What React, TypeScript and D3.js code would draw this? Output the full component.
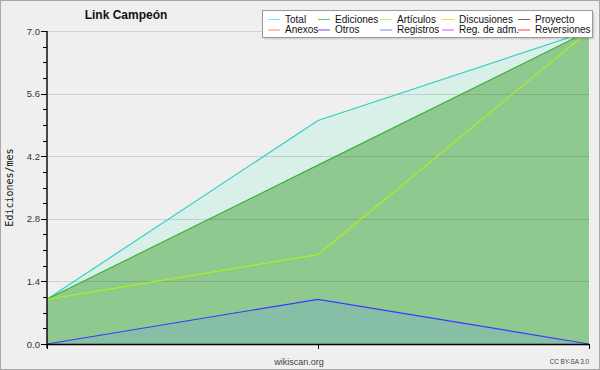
import React, { useRef, useEffect } from "react";
import * as d3 from "d3";

// three sample points along the x axis
const points = [0, 1, 2];
const total = [1, 5, 7];
const ediciones = [1, 4, 7];
const articulos = [1, 2, 7];
const registros = [0, 1, 0];

const yTicks = [0, 1.4, 2.8, 4.2, 5.6, 7.0];

const legendNames = [
  "Total", "Ediciones", "Artículos", "Discusiones", "Proyecto",
  "Anexos", "Otros", "Registros", "Reg. de adm.", "Reversiones",
];
const legendColors = [
  "#8ee0dc", "#6cc46c", "#c6f060", "#ffd24a", "#6a6a6a",
  "#ff8a4a", "#8a3ae0", "#7088ff", "#e050ff", "#ff3a3a",
];

const FONT = "Liberation Sans, Arial, sans-serif";

const App: React.FC = () => {
  const ref = useRef<SVGSVGElement | null>(null);

  useEffect(() => {
    const width = 600;
    const height = 370;
    const margin = { top: 31, right: 11, bottom: 26, left: 47 };
    const w = width - margin.left - margin.right;
    const h = height - margin.top - margin.bottom;

    const root = d3.select(ref.current);
    root.selectAll("*").remove();
    root.attr("width", width).attr("height", height);

    // background + frame
    root
      .append("rect")
      .attr("x", 0.5)
      .attr("y", 0.5)
      .attr("width", width - 1)
      .attr("height", height - 1)
      .attr("fill", "#efefef")
      .attr("stroke", "#a8a8a8");

    const svg = root
      .append("g")
      .attr("transform", `translate(${margin.left},${margin.top})`);

    const x = d3.scaleLinear().domain([0, 2]).range([0, w]);
    const y = d3.scaleLinear().domain([0, 7]).range([h, 0]);

    const area = (vals: number[]) =>
      d3
        .area<number>()
        .x((d) => x(d))
        .y0(y(0))
        .y1((d) => y(vals[d]))(points);
    const line = (vals: number[]) =>
      d3
        .line<number>()
        .x((d) => x(d))
        .y((d) => y(vals[d]))(points);

    // areas
    svg.append("path").attr("d", area(total)).attr("fill", "#d9f0e8");
    svg.append("path").attr("d", area(ediciones)).attr("fill", "#90c990");
    svg.append("path").attr("d", area(registros)).attr("fill", "#86bfa6");

    // grid lines on top of areas
    svg
      .selectAll(".grid")
      .data(yTicks.filter((t) => t > 0))
      .enter()
      .append("line")
      .attr("x1", 0)
      .attr("x2", w)
      .attr("y1", (d) => Math.round(y(d)) + 0.5)
      .attr("y2", (d) => Math.round(y(d)) + 0.5)
      .attr("stroke", "rgba(0,0,0,0.12)");

    // lines
    const lines: [number[], string][] = [
      [total, "#30d0c8"],
      [ediciones, "#3eae3e"],
      [articulos, "#a6f020"],
      [registros, "#3a3aff"],
    ];
    lines.forEach(([vals, c]) => {
      svg
        .append("path")
        .attr("d", line(vals))
        .attr("fill", "none")
        .attr("stroke", c)
        .attr("stroke-width", 1.2);
    });

    // y axis
    const yAxis = svg.append("g");
    yAxis
      .append("line")
      .attr("x1", 0)
      .attr("x2", 0)
      .attr("y1", 0)
      .attr("y2", h + 4)
      .attr("stroke", "#000")
      .attr("stroke-width", 1.4);
    const minor = d3.range(0, 7.0001, 0.35);
    yAxis
      .selectAll(".minor")
      .data(minor)
      .enter()
      .append("line")
      .attr("x1", -4)
      .attr("x2", 0)
      .attr("y1", (d) => Math.round(y(d)) + 0.5)
      .attr("y2", (d) => Math.round(y(d)) + 0.5)
      .attr("stroke", "#000");
    yAxis
      .selectAll(".major")
      .data(yTicks)
      .enter()
      .append("line")
      .attr("x1", -6)
      .attr("x2", 0)
      .attr("y1", (d) => Math.round(y(d)) + 0.5)
      .attr("y2", (d) => Math.round(y(d)) + 0.5)
      .attr("stroke", "#000");
    yAxis
      .selectAll(".lbl")
      .data(yTicks)
      .enter()
      .append("text")
      .attr("x", -7)
      .attr("y", (d) => y(d) + 3.5)
      .attr("text-anchor", "end")
      .attr("fill", "#333")
      .style("font-family", FONT)
      .style("font-size", "9.5px")
      .text((d) => d.toFixed(1));

    // x axis
    const xAxis = svg.append("g").attr("transform", `translate(0,${h})`);
    xAxis
      .append("line")
      .attr("x1", 0)
      .attr("x2", w)
      .attr("y1", 0.5)
      .attr("y2", 0.5)
      .attr("stroke", "#000")
      .attr("stroke-width", 1.4);
    xAxis
      .selectAll(".xt")
      .data(points)
      .enter()
      .append("line")
      .attr("x1", (d) => Math.round(x(d)) + 0.5)
      .attr("x2", (d) => Math.round(x(d)) + 0.5)
      .attr("y1", 0)
      .attr("y2", 5)
      .attr("stroke", "#000");

    // texts
    root
      .append("text")
      .attr("x", 126)
      .attr("y", 18.5)
      .attr("text-anchor", "middle")
      .attr("fill", "#111")
      .style("font-family", FONT)
      .style("font-size", "12px")
      .style("font-weight", "bold")
      .text("Link Campeón");
    root
      .append("text")
      .attr("transform", `translate(13,${margin.top + h / 2}) rotate(-90)`)
      .attr("text-anchor", "middle")
      .attr("fill", "#111")
      .style("font-family", "DejaVu Sans Mono, monospace")
      .style("font-size", "10px")
      .text("Ediciones/mes");
    root
      .append("text")
      .attr("x", 299)
      .attr("y", 365)
      .attr("text-anchor", "middle")
      .attr("fill", "#444")
      .style("font-family", FONT)
      .style("font-size", "9px")
      .text("wikiscan.org");
    root
      .append("text")
      .attr("x", 589)
      .attr("y", 364)
      .attr("text-anchor", "end")
      .attr("fill", "#444")
      .style("font-family", FONT)
      .style("font-size", "6.3px")
      .text("CC BY-SA 3.0");

    // legend
    const lg = root.append("g");
    lg.append("rect")
      .attr("x", 264.5)
      .attr("y", 12.5)
      .attr("width", 330)
      .attr("height", 27)
      .attr("fill", "rgba(0,0,0,0.12)");
    lg.append("rect")
      .attr("x", 262.5)
      .attr("y", 10.5)
      .attr("width", 330)
      .attr("height", 27)
      .attr("fill", "#fff")
      .attr("stroke", "#999");
    const colX = [268, 318, 380, 442, 518];
    const rowY = [19, 29.5];
    legendNames.forEach((name, i) => {
      const cx = colX[i % 5];
      const cy = rowY[Math.floor(i / 5)];
      lg.append("line")
        .attr("x1", cx)
        .attr("x2", cx + 12)
        .attr("y1", cy + 0.5)
        .attr("y2", cy + 0.5)
        .attr("stroke", legendColors[i]);
      lg.append("text")
        .attr("x", cx + 17)
        .attr("y", cy + 3.5)
        .attr("fill", "#111")
        .style("font-family", FONT)
        .style("font-size", "10px")
        .text(name);
    });
  }, []);

  return (
    <svg ref={ref} style={{ position: "absolute", left: 0, top: 0 }} />
  );
};

export default App;
